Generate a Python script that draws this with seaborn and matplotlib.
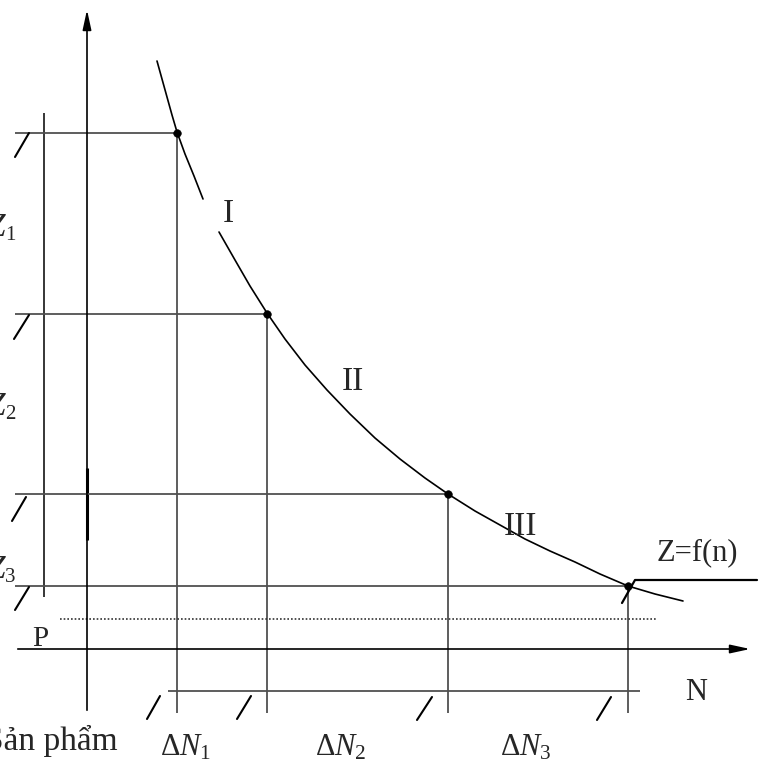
import matplotlib
matplotlib.use("Agg")
import matplotlib.pyplot as plt
import seaborn as sns

# Curve Z = f(n) (pixel-like units, y downward)
curve_top_n = [157, 162, 167, 172, 177, 185, 194, 203]
curve_top_z = [61, 79, 97, 115, 132, 154, 176, 199]
curve_bot_n = [219, 235, 250, 267, 285, 305, 327, 350, 375, 400, 425, 448,
               475, 500, 525, 550, 575, 600, 628, 655, 683]
curve_bot_z = [232, 260, 286, 313, 339, 365, 390, 414, 438, 459, 478, 494,
               511, 525, 539, 551, 562, 574, 586, 594, 601]

# break points on the curve
point_n = [177, 267, 448, 628]
point_z = [133, 314, 494, 586]

# slashes on the left (Z marks) and under the N line (dN marks)
slash_left_x = [(15, 29), (14, 29), (12, 26), (15, 29)]
slash_left_y = [(157, 133), (339, 315), (521, 497), (610, 587)]
slash_bot_x = [(147, 160), (237, 251), (417, 432), (597, 611)]
slash_bot_y = [(719, 696), (719, 696), (720, 697), (720, 697)]

region_labels = ["I", "II", "III"]
region_pos = [(228, 214), (353, 382), (520, 527)]
dn_labels = [r"$\Delta N_1$", r"$\Delta N_2$", r"$\Delta N_3$"]
dn_left = [160, 315, 500]
z_subs = ["1", "2", "3"]
z_base = [236, 415, 578]

sns.set_theme(style="white")
plt.rcParams["font.family"] = ["Liberation Serif", "DejaVu Serif"]
plt.rcParams["mathtext.fontset"] = "custom"
plt.rcParams["mathtext.rm"] = "Liberation Serif"
plt.rcParams["mathtext.it"] = "Liberation Serif:italic"

fig = plt.figure(figsize=(7.63, 7.64), dpi=100)
ax = fig.add_axes([0, 0, 1, 1])
ax.set_xlim(0, 763)
ax.set_ylim(764, 0)
ax.axis("off")

grey = "#505050"

# axes with arrows
ax.annotate("", xy=(87, 7), xytext=(87, 713),
            arrowprops=dict(arrowstyle="-|>,head_length=0.6,head_width=0.13",
                            color="black", lw=1.2, mutation_scale=20))
ax.annotate("", xy=(753, 649), xytext=(15, 649),
            arrowprops=dict(arrowstyle="-|>,head_length=0.6,head_width=0.13",
                            color="black", lw=1.2, mutation_scale=20))
ax.vlines(87, 468, 540, color="black", lw=2.2)

# left vertical line
ax.vlines(44, 113, 597, color="black", lw=1.1)

# level lines and drop lines
for n, z in zip(point_n, point_z):
    ax.hlines(z, 15, n, color=grey, lw=1.3)
    ax.vlines(n, z, 713, color=grey, lw=1.3)

ax.hlines(691, 168, 640, color=grey, lw=1.3)
ax.hlines(619, 60, 657, color="#333333", lw=1.2, linestyles=(0, (1, 1.2)))

# slashes
for xs, ys in zip(slash_left_x + slash_bot_x, slash_left_y + slash_bot_y):
    ax.plot(xs, ys, color="black", lw=1.5)

# curve
sns.lineplot(x=curve_top_n, y=curve_top_z, ax=ax, color="black", lw=1.2,
             sort=False, estimator=None)
sns.lineplot(x=curve_bot_n, y=curve_bot_z, ax=ax, color="black", lw=1.2,
             sort=False, estimator=None)
sns.scatterplot(x=point_n, y=point_z, ax=ax, color="black", s=30,
                edgecolor="black", zorder=5)

# Z = f(n) leader
ax.plot([622, 635, 757], [603, 580, 580], color="black", lw=1.6)
ax.text(697, 553, "Z=f(n)", fontsize=22, ha="center", va="center")

# region labels
for lab, (x, y) in zip(region_labels, region_pos):
    ax.text(x, y, lab, fontsize=24, ha="center", va="center")

# dN labels
for lab, x in zip(dn_labels, dn_left):
    ax.text(x, 756, lab, fontsize=22, ha="left", va="baseline")

ax.text(118, 750, "Sản phẩm", fontsize=24, ha="right", va="baseline")
ax.text(40, 639, "P", fontsize=21, ha="center", va="center")
ax.text(696, 692, "N", fontsize=22, ha="center", va="center")

# Z labels on the left (cut by the frame)
for sub, yb in zip(z_subs, z_base):
    ax.text(5, yb, "Z", fontsize=24, ha="right", va="baseline", style="italic")
    ax.text(5, yb + 4, sub, fontsize=15, ha="left", va="baseline")

fig.savefig("out.png", dpi=100)
